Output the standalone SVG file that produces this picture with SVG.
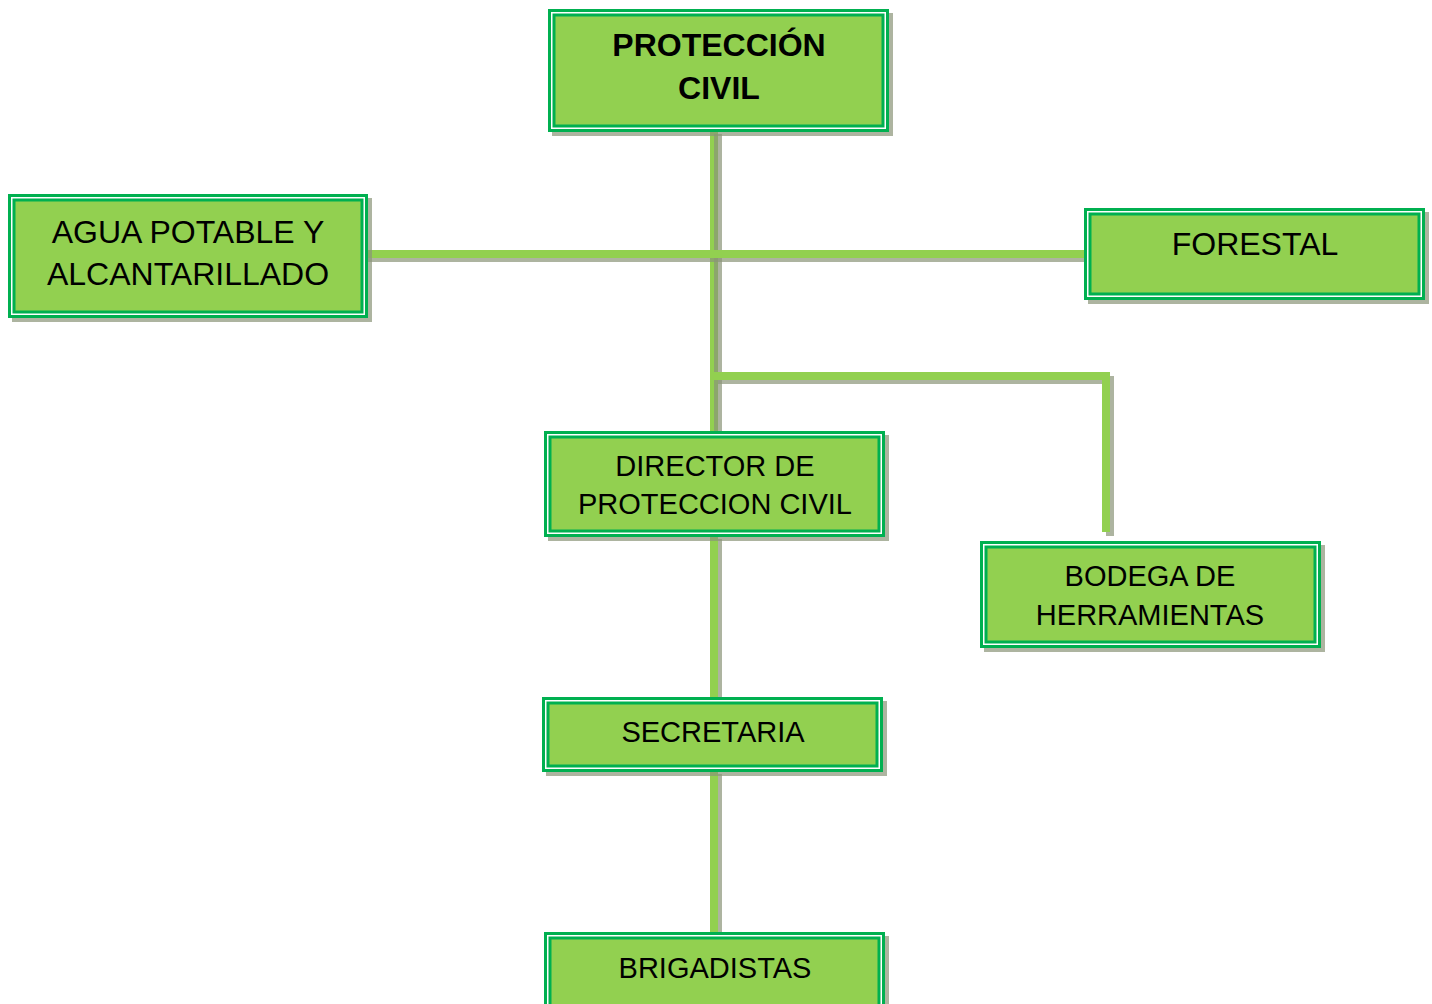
<svg xmlns="http://www.w3.org/2000/svg" width="1432" height="1004" viewBox="0 0 1432 1004">
<style>
.sh{fill:#8a9478;opacity:.7}
.o{fill:#ffffff;stroke:#00b050;stroke-width:3}
.i{fill:#92d050;stroke:#00b050;stroke-width:3}
.t{font-family:"Liberation Sans",Arial,sans-serif;font-size:29px;fill:#000;text-anchor:middle}
.b{font-size:32px;font-weight:bold}
.l{font-size:32px}
.ln{stroke:#92d050;stroke-width:8;fill:none}
.ls{stroke:#8a9478;stroke-opacity:.7;stroke-width:8;fill:none}
</style>
<rect width="1432" height="1004" fill="#fff"/>
<g id="connectors">
<line class="ln" x1="714" y1="130" x2="714" y2="431"/>
<line class="ls" x1="718" y1="134" x2="718" y2="431"/>
<line class="ls" x1="368" y1="258" x2="1084" y2="258"/>
<line class="ln" x1="366" y1="254" x2="1084" y2="254"/>
<path class="ls" d="M718 380 H1110 V536"/>
<path class="ln" d="M714 376 H1106 V532"/>
<line class="ls" x1="718" y1="539" x2="718" y2="697"/>
<line class="ln" x1="714" y1="535" x2="714" y2="697"/>
<line class="ls" x1="718" y1="774" x2="718" y2="938"/>
<line class="ln" x1="714" y1="770" x2="714" y2="938"/>
</g>
<g id="proteccion-civil">
<rect class="sh" x="552" y="13" width="341" height="123"/>
<rect class="o" x="549.5" y="10.5" width="338" height="120"/>
<rect class="i" x="554" y="15" width="329" height="111"/>
<text class="t b" x="719" y="56">PROTECCIÓN</text>
<text class="t b" x="719" y="99">CIVIL</text>
</g>
<g id="agua-potable">
<rect class="sh" x="12" y="198" width="360" height="124"/>
<rect class="o" x="9.5" y="195.5" width="357" height="121"/>
<rect class="i" x="14" y="200" width="348" height="112"/>
<text class="t l" x="188" y="243">AGUA POTABLE Y</text>
<text class="t l" x="188" y="285">ALCANTARILLADO</text>
</g>
<g id="forestal">
<rect class="sh" x="1088" y="212" width="341" height="92"/>
<rect class="o" x="1085.5" y="209.5" width="338" height="89"/>
<rect class="i" x="1090" y="214" width="329" height="80"/>
<text class="t l" x="1255" y="255">FORESTAL</text>
</g>
<g id="director">
<rect class="sh" x="548" y="435" width="341" height="106"/>
<rect class="o" x="545.5" y="432.5" width="338" height="103"/>
<rect class="i" x="550" y="437" width="329" height="94"/>
<text class="t" x="715" y="476">DIRECTOR DE</text>
<text class="t" x="715" y="514">PROTECCION CIVIL</text>
</g>
<g id="bodega">
<rect class="sh" x="984" y="545" width="341" height="107"/>
<rect class="o" x="981.5" y="542.5" width="338" height="104"/>
<rect class="i" x="986" y="547" width="329" height="95"/>
<text class="t" x="1150" y="586">BODEGA DE</text>
<text class="t" x="1150" y="625">HERRAMIENTAS</text>
</g>
<g id="secretaria">
<rect class="sh" x="546" y="701" width="341" height="75"/>
<rect class="o" x="543.5" y="698.5" width="338" height="72"/>
<rect class="i" x="548" y="703" width="329" height="63"/>
<text class="t" x="713" y="742">SECRETARIA</text>
</g>
<g id="brigadistas">
<rect class="sh" x="548" y="936" width="341" height="80"/>
<rect class="o" x="545.5" y="933.5" width="338" height="80"/>
<rect class="i" x="550" y="938" width="329" height="80"/>
<text class="t" x="715" y="978">BRIGADISTAS</text>
</g>
</svg>
